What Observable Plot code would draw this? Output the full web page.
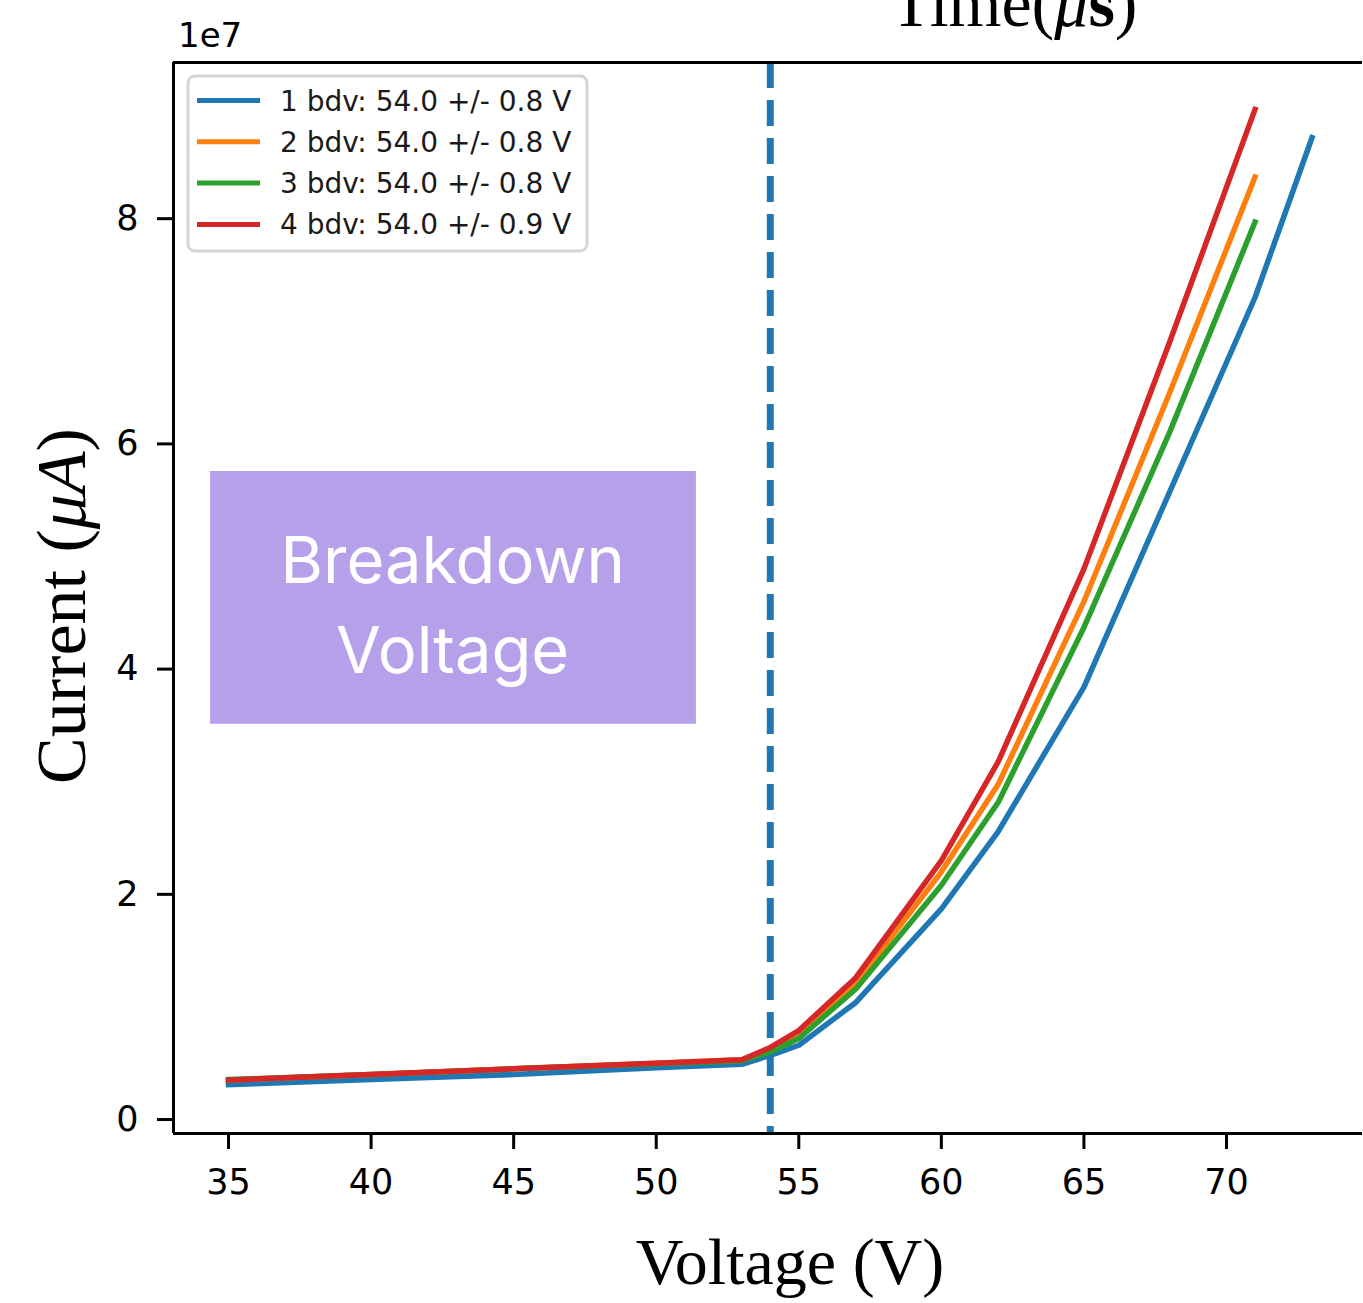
<!DOCTYPE html>
<html>
<head>
<meta charset="utf-8">
<script src="https://cdn.jsdelivr.net/npm/d3@7"></script>
<script src="https://cdn.jsdelivr.net/npm/@observablehq/plot@0.6"></script>
<style>
  html, body { margin: 0; padding: 0; background: white; }
  #chart { width: 1363px; height: 1303px; }
</style>
</head>
<body>
<div id="chart"></div>
<script>
// ---- data (current in units of 1e7) ----
const seriesLabels = [
  "1 bdv: 54.0 +/- 0.8 V",
  "2 bdv: 54.0 +/- 0.8 V",
  "3 bdv: 54.0 +/- 0.8 V",
  "4 bdv: 54.0 +/- 0.9 V"
];
const seriesColors = ["#1f77b4", "#ff7f0e", "#2ca02c", "#d62728"];
const voltage1 = [35, 40, 45, 50, 53, 54, 55, 57, 60, 62, 65, 68, 71, 73];
const voltage234 = [35, 40, 45, 50, 53, 54, 55, 57, 60, 62, 65, 68, 71];
const current1 = [0.31, 0.355, 0.40, 0.46, 0.49, 0.57, 0.66, 1.04, 1.87, 2.56, 3.84, 5.57, 7.30, 8.72];
const current2 = [0.35, 0.40, 0.45, 0.50, 0.53, 0.61, 0.74, 1.21, 2.20, 2.98, 4.60, 6.45, 8.37];
const current3 = [0.355, 0.40, 0.45, 0.495, 0.52, 0.60, 0.72, 1.16, 2.08, 2.82, 4.37, 6.10, 7.97];
const current4 = [0.35, 0.40, 0.45, 0.50, 0.53, 0.64, 0.79, 1.26, 2.30, 3.18, 4.89, 6.90, 8.97];
const breakdownVoltage = [54];
const xTicks = [35, 40, 45, 50, 55, 60, 65, 70];
const yTicks = [0, 2, 4, 6, 8];
const xDomain = [33.07, 74.77];
const yDomain = [-0.124, 9.387];
// annotation box (data units) and its text
const annotationBox = [{x1: 34.37, x2: 51.41, y1: 3.51, y2: 5.755}];
const annotationLines = [
  {x: 42.86, y: 4.95, text: "Breakdown"},
  {x: 42.86, y: 4.15, text: "Voltage"}
];

const seriesVoltages = [voltage1, voltage234, voltage234, voltage234];
const seriesCurrents = [current1, current2, current3, current4];
const rows = seriesLabels.flatMap((s, k) =>
  seriesVoltages[k].map((v, j) => ({series: s, v, i: seriesCurrents[k][j]}))
);

const plot = Plot.plot({
  width: 1363,
  height: 1303,
  marginLeft: 173,
  marginRight: 1,
  marginTop: 62,
  marginBottom: 170,
  x: {domain: xDomain},
  y: {domain: yDomain},
  color: {domain: seriesLabels, range: seriesColors},
  style: {fontFamily: "DejaVu Sans", background: "white", color: "black"},
  marks: [
    Plot.rect(annotationBox, {x1: "x1", x2: "x2", y1: "y1", y2: "y2", fill: "#b7a0ea"}),
    Plot.text(annotationLines, {x: "x", y: "y", text: "text", fill: "white", fontSize: 65, fontFamily: "Inter", textAnchor: "middle"}),
    Plot.ruleX(breakdownVoltage, {stroke: seriesColors[0], strokeWidth: 7, strokeDasharray: "26,12"}),
    Plot.line(rows, {x: "v", y: "i", z: "series", stroke: "series", strokeWidth: 5.5, strokeLinejoin: "round", strokeLinecap: "square"}),
    Plot.axisX({ticks: xTicks, tickSize: 16, tickPadding: 20, fontSize: 35, strokeWidth: 3, label: null, tickFormat: d => String(d)}),
    Plot.axisY({ticks: yTicks, tickSize: 16, tickPadding: 19, fontSize: 35, strokeWidth: 3, label: null, tickFormat: d => String(d)}),
    Plot.ruleY([yDomain[1]], {stroke: "black", strokeWidth: 3}),
    Plot.ruleY([yDomain[0]], {stroke: "black", strokeWidth: 3}),
    Plot.ruleX([xDomain[0]], {stroke: "black", strokeWidth: 3})
  ]
});
document.getElementById("chart").appendChild(plot);

// ---- extra text and legend ----
const svg = d3.select(plot);
const serif = "'Liberation Serif', 'DejaVu Serif', serif";

const tl = svg.append("text").attr("x", 1014).attr("y", 26).attr("text-anchor", "middle")
  .attr("font-family", serif).attr("font-size", 68).attr("fill", "black");
tl.append("tspan").text("Time(");
tl.append("tspan").attr("font-style", "italic").text("μ");
tl.append("tspan").attr("font-weight", "bold").text("s");
tl.append("tspan").text(")");

svg.append("text").attr("x", 178).attr("y", 47).attr("text-anchor", "start")
  .attr("font-family", "DejaVu Sans").attr("font-size", 34).attr("fill", "black").text("1e7");

svg.append("text").attr("x", 790).attr("y", 1284).attr("text-anchor", "middle")
  .attr("font-family", serif).attr("font-size", 66).attr("fill", "black").text("Voltage (V)");

const yl = svg.append("text").attr("transform", "translate(85,606) rotate(-90)")
  .attr("text-anchor", "middle").attr("font-family", serif).attr("font-size", 70).attr("fill", "black");
yl.append("tspan").text("Current (");
yl.append("tspan").attr("font-style", "italic").text("μ");
yl.append("tspan").attr("font-style", "italic").text("A");
yl.append("tspan").text(")");

const lg = svg.append("g").attr("text-anchor", "start");
lg.append("rect").attr("x", 188).attr("y", 76).attr("width", 399).attr("height", 175)
  .attr("rx", 7).attr("fill", "white").attr("fill-opacity", 0.8)
  .attr("stroke", "#d4d4d4").attr("stroke-width", 3);
seriesLabels.forEach((s, k) => {
  const y = 100.5 + k * 41.3;
  lg.append("line").attr("x1", 197).attr("x2", 260).attr("y1", y).attr("y2", y)
    .attr("stroke", seriesColors[k]).attr("stroke-width", 5);
  lg.append("text").attr("x", 280).attr("y", y + 10).attr("text-anchor", "start")
    .attr("font-family", "DejaVu Sans").attr("font-size", 28).attr("fill", "#1a1a1a").text(s);
});
</script>
</body>
</html>
